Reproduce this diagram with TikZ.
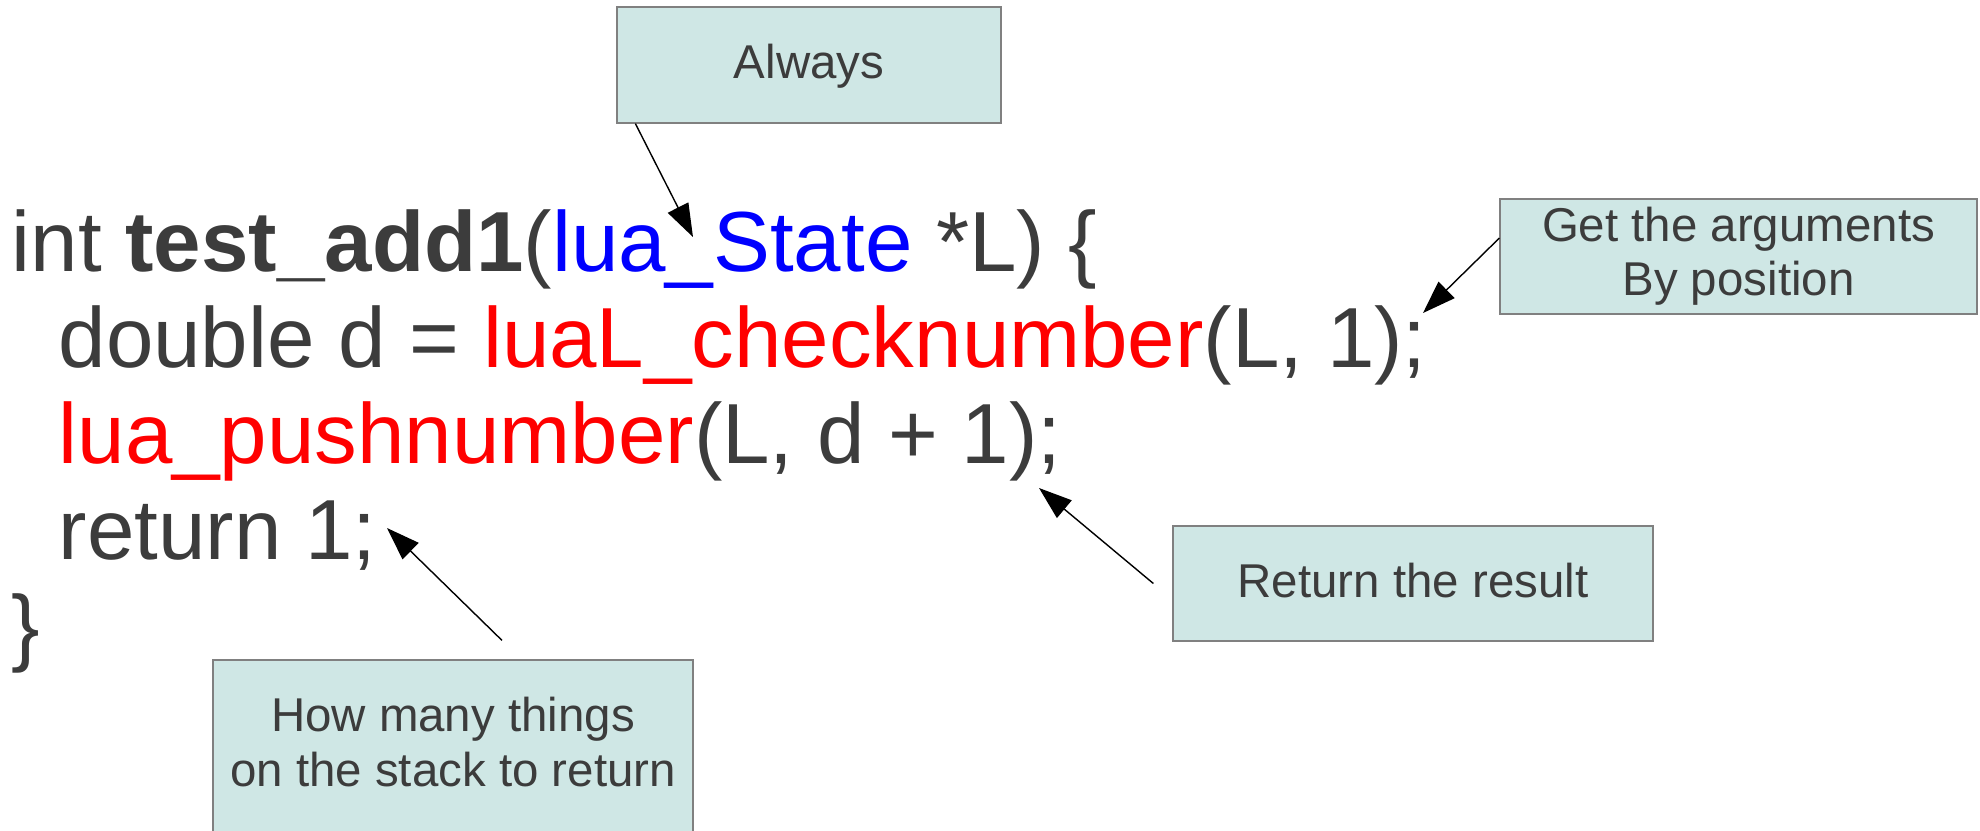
\documentclass[tikz,border=0pt]{standalone}
\usepackage{fontspec}
\setmainfont{Liberation Sans}
\usepackage{tikz}
\usetikzlibrary{arrows.meta}
\definecolor{ink}{RGB}{60,60,60}
\definecolor{notefill}{RGB}{207,231,229}
\definecolor{noteline}{RGB}{128,128,128}
\tikzstyle{code}=[anchor=base west, inner sep=0pt, text=ink, font=\fontsize{24.27}{27.3}\selectfont]
\tikzstyle{note}=[fill=notefill, draw=noteline, line width=0.35pt, shape=rectangle, text=ink, align=center, inner sep=0pt, font=\fontsize{13.5}{15.4}\selectfont, execute at begin node={\rule[-.21em]{0pt}{1em}}, execute at end node={\rule[-.21em]{0pt}{1em}}]
\tikzstyle{pointer}=[-{Triangle[length=9.4pt,width=6.5pt]}, draw=black, line width=0.4pt]

\begin{document}
\begin{tikzpicture}
	\useasboundingbox (0, 0) rectangle (19.8, -8.3);
	\node [style=code] (0) at (0.11, -2.71) {int \textbf{test\_add1}(\textcolor{blue}{lua\_State} *L) \{};
	\node [style=code] (1) at (0.58, -3.67) {double d = \textcolor{red}{luaL\_checknumber}(L, 1);};
	\node [style=code] (2) at (0.58, -4.63) {\textcolor{red}{lua\_pushnumber}(L, d + 1);};
	\node [style=code] (3) at (0.58, -5.59) {return 1;};
	\node [style=code] (4) at (0.11, -6.55) {\}};
	\node [style=note, minimum width=3.84cm, minimum height=1.16cm] (5) at (8.09, -0.65) {Always};
	\node [style=note, minimum width=4.77cm, minimum height=1.15cm] (6) at (17.385, -2.565) {Get the arguments\\By position};
	\node [style=note, minimum width=4.8cm, minimum height=1.15cm] (7) at (14.13, -5.835) {Return the result};
	\node [style=note, minimum width=4.8cm, minimum height=1.74cm, font=\fontsize{13.5}{15.65}\selectfont] (8) at (4.53, -7.47) {How many things\\on the stack to return};
	\coordinate (9) at (6.93, -2.37);
	\coordinate (10) at (14.23, -3.13);
	\coordinate (11) at (10.39, -4.88);
	\coordinate (12) at (3.87, -5.28);
	\draw [style=pointer] ([xshift=0.19cm]5.south west) to (9);
	\draw [style=pointer] ([yshift=0.185cm]6.west) to (10);
	\draw [style=pointer] ([xshift=-0.19cm]7.west) to (11);
	\draw [style=pointer] ([xshift=0.49cm, yshift=0.19cm]8.north) to (12);
\end{tikzpicture}
\end{document}
